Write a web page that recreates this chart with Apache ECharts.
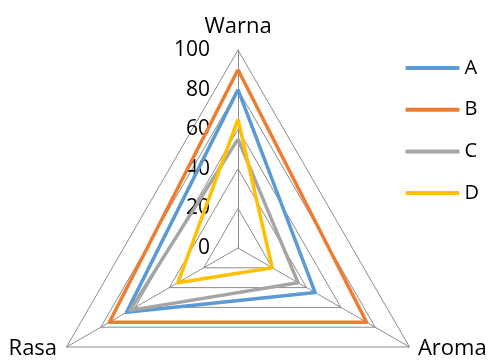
<!DOCTYPE html>
<html>
<head>
<meta charset="utf-8">
<script src="https://cdn.jsdelivr.net/npm/echarts@6/dist/echarts.min.js"></script>
<style>
  html, body { margin: 0; padding: 0; background: #fff; }
  #chart { width: 490px; height: 361px; }
</style>
</head>
<body>
<div id="chart"></div>
<script>
// Indicators in drawing order (counter-clockwise from the top)
const indicators = ['Warna', 'Rasa', 'Aroma'];
const seriesNames = ['A', 'B', 'C', 'D'];
const colors = ['#5B9BD5', '#ED7D31', '#A5A5A5', '#FFC000'];
// Scores per sample, in the same order as indicators
const valuesA = [80, 65, 45];
const valuesB = [90, 75, 75];
const valuesC = [55, 63, 35];
const valuesD = [65, 35, 20];
const tickMax = 100;
const tickStep = 20;

const allValues = [valuesA, valuesB, valuesC, valuesD];
const font = "'Open Sans', 'Noto Sans', sans-serif";

const cx = 238, cy = 248, radius = 198;

const chart = echarts.init(document.getElementById('chart'), null, { renderer: 'canvas' });

const nameStyle = { color: '#000', fontSize: 22, fontFamily: font };

chart.setOption({
  animation: false,
  color: colors,
  textStyle: { fontFamily: font },
  legend: {
    orient: 'vertical',
    right: 6,
    top: 53,
    itemGap: 21.7,
    itemWidth: 54,
    itemHeight: 4,
    icon: 'roundRect',
    data: seriesNames,
    textStyle: { fontSize: 20, color: '#000', fontFamily: font }
  },
  // Value scale for the radial tick labels, aligned with the vertical spoke
  grid: { left: cx, top: cy - radius, width: 1, height: radius },
  xAxis: { show: false, type: 'value' },
  yAxis: {
    type: 'value',
    min: 0,
    max: tickMax,
    interval: tickStep,
    axisLine: { show: false },
    axisTick: { show: false },
    splitLine: { show: false },
    axisLabel: { margin: 28, fontSize: 21, color: '#000', fontFamily: font }
  },
  radar: {
    center: [cx, cy],
    radius: radius,
    startAngle: 90,
    shape: 'polygon',
    splitNumber: tickMax / tickStep,
    indicator: indicators.map(n => ({ name: n, max: tickMax, min: 0 })),
    nameGap: 4,
    axisName: {
      color: '#000',
      fontSize: 22,
      fontFamily: font,
      formatter: function (name) {
        if (name === 'Warna') return '{top|' + name + '}';
        if (name === 'Rasa') return '{left|' + name + '}';
        return '{right|' + name + '}';
      },
      rich: {
        top: Object.assign({ padding: [0, 0, 8, 0] }, nameStyle),
        left: Object.assign({ padding: [0, 6, 0, 0] }, nameStyle),
        right: Object.assign({ padding: [0, 0, 0, 5] }, nameStyle)
      }
    },
    axisLine: { lineStyle: { color: '#8c8c8c', width: 1 } },
    splitLine: { lineStyle: { color: '#8c8c8c', width: 1 } },
    splitArea: { show: false }
  },
  series: seriesNames.map((name, i) => ({
    type: 'radar',
    name: name,
    symbol: 'none',
    lineStyle: { width: 3.5, color: colors[i] },
    itemStyle: { color: colors[i] },
    data: [{ value: allValues[i], name: name }]
  }))
});
</script>
</body>
</html>
